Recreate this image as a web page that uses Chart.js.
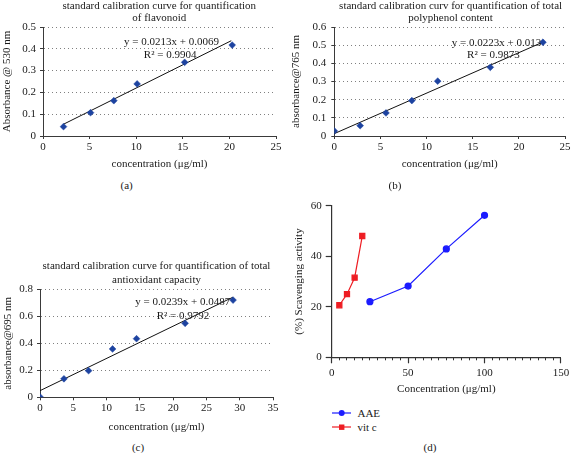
<!DOCTYPE html>
<html>
<head>
<meta charset="utf-8">
<script src="https://cdn.jsdelivr.net/npm/chart.js@4/dist/chart.umd.min.js"></script>
<style>
  body { margin: 0; background: #fff; width: 572px; height: 453px; position: relative; overflow: hidden;
         font-family: "Liberation Serif", "Times New Roman", serif; color: #1a1a1a; }
  canvas { position: absolute; }
  .txt { position: absolute; font-size: 11px; white-space: nowrap; transform: translate(-50%, -50%); }
  #legendD { position: absolute; left: 331.7px; top: 405.7px; font-size: 11px; }
  .legrow { display: flex; align-items: center; height: 14px; }
  .legrow svg { margin-right: 6.5px; }
</style>
</head>
<body>
<canvas id="chartA" width="286" height="176" style="left:0;top:0"></canvas>
<canvas id="chartB" width="286" height="176" style="left:286px;top:0"></canvas>
<canvas id="chartC" width="286" height="220" style="left:0;top:220px"></canvas>
<canvas id="chartD" width="286" height="210" style="left:286px;top:190px"></canvas>

<div class="txt" style="left:159.3px;top:5px">standard calibration curve for quantification</div>
<div class="txt" style="left:159.3px;top:17.3px">of flavonoid</div>
<div class="txt" style="left:450.6px;top:5px">standard calibration curv for quantification of total</div>
<div class="txt" style="left:450.6px;top:17.3px">polyphenol content</div>
<div class="txt" style="left:156.5px;top:265px">standard calibration curve for quantification of total</div>
<div class="txt" style="left:156.5px;top:279.3px">antioxidant capacity</div>

<div class="txt" style="left:126.7px;top:185px">(a)</div>
<div class="txt" style="left:395px;top:185px">(b)</div>
<div class="txt" style="left:138px;top:446.7px">(c)</div>
<div class="txt" style="left:430px;top:447px">(d)</div>

<div id="legendD"></div>

<script>
// (a) flavonoid
const flavX = [2.2, 5.1, 7.6, 10.1, 15.2, 20.3];
const flavY = [0.043, 0.107, 0.162, 0.239, 0.338, 0.417];
const flavTrendX = [2.2, 20.2];
const flavTrendY = [0.054, 0.437];
const flavXTicks = [0, 5, 10, 15, 20, 25];
const flavYTicks = [0, 0.05, 0.1, 0.15, 0.2, 0.25, 0.3, 0.35, 0.4, 0.45, 0.5];

// (b) polyphenol
const polyX = [0, 2.8, 5.6, 8.4, 11.2, 16.9, 22.6];
const polyY = [0.028, 0.057, 0.127, 0.195, 0.302, 0.378, 0.516];
const polyTrendX = [0, 22.6];
const polyTrendY = [0.013, 0.517];
const polyXTicks = [0, 5, 10, 15, 20, 25];
const polyYTicks = [0, 0.1, 0.2, 0.3, 0.4, 0.5, 0.6];

// (c) total antioxidant capacity
const antiX = [0, 3.6, 7.3, 10.9, 14.5, 21.8, 29.0];
const antiY = [0.003, 0.137, 0.197, 0.358, 0.434, 0.548, 0.72];
const antiTrendX = [0, 29];
const antiTrendY = [0.049, 0.742];
const antiXTicks = [0, 5, 10, 15, 20, 25, 30, 35];
const antiYTicks = [0, 0.1, 0.2, 0.3, 0.4, 0.5, 0.6, 0.7, 0.8];

// (d) scavenging activity
const aaeX = [25, 50, 75, 100];
const aaeY = [22, 28.2, 42.9, 56.2];
const vitcX = [5, 10, 15, 20];
const vitcY = [20.6, 25, 31.5, 48];
const scavXTicks = [0, 50, 100, 150];
const scavYTicks = [0, 20, 40, 60];

const markerBlue = '#1d43a0';
const axisColor = '#3a3a3a';

Chart.defaults.font.family = '"Liberation Serif", "Times New Roman", serif';
Chart.defaults.font.size = 11;
Chart.defaults.color = '#1a1a1a';

const pts = (xs, ys) => xs.map((x, i) => ({ x: x, y: ys[i] }));
const useTicks = arr => scale => { scale.ticks = arr.map(v => ({ value: v })); };

// regression text, placed at data coordinates
const eqLabel = {
    id: 'eqLabel',
    afterDatasetsDraw(chart, args, opts) {
        if (!opts.lines) return;
        const ctx = chart.ctx;
        const sx = chart.scales.x, sy = chart.scales.y;
        ctx.save();
        ctx.font = '11px "Liberation Serif", serif';
        ctx.fillStyle = '#1a1a1a';
        ctx.textAlign = 'center';
        ctx.textBaseline = 'middle';
        opts.lines.forEach((t, i) => {
            ctx.fillText(t, sx.getPixelForValue(opts.at[i][0]), sy.getPixelForValue(opts.at[i][1]));
        });
        ctx.restore();
    }
};
Chart.register(eqLabel);

function calibChart(id, d) {
    const g = d.geom;
    return new Chart(document.getElementById(id), {
        type: 'scatter',
        data: {
            datasets: [
                {
                    data: pts(d.x, d.y),
                    pointStyle: 'rectRot',
                    pointRadius: 3.4,
                    pointBackgroundColor: markerBlue,
                    pointBorderColor: markerBlue,
                    pointBorderWidth: 0.5
                },
                {
                    data: pts(d.trendX, d.trendY),
                    showLine: true,
                    pointRadius: 0,
                    borderColor: '#111',
                    borderWidth: 1
                }
            ]
        },
        options: {
            responsive: false,
            animation: false,
            layout: { padding: g.pad },
            plugins: {
                legend: { display: false },
                tooltip: { enabled: false },
                eqLabel: { lines: d.eq, at: d.eqAt }
            },
            scales: {
                x: {
                    type: 'linear',
                    min: d.xTicks[0],
                    max: d.xTicks[d.xTicks.length - 1],
                    afterBuildTicks: useTicks(d.xTicks),
                    afterFit: s => { s.height = g.xHeight; },
                    grid: { drawOnChartArea: false, tickLength: 3, tickColor: axisColor },
                    border: { color: axisColor },
                    ticks: { padding: g.xTickPad, callback: v => String(v) },
                    title: { display: true, text: 'concentration (μg/ml)', padding: { top: 0, bottom: g.xTitlePad } }
                },
                y: {
                    type: 'linear',
                    min: d.yTicks[0],
                    max: d.yTicks[d.yTicks.length - 1],
                    afterBuildTicks: useTicks(d.yTicks),
                    afterFit: s => { s.width = g.yWidth; },
                    grid: { color: '#808080', tickLength: 3, tickColor: axisColor },
                    border: { color: axisColor, dash: [1, 3] },
                    ticks: { padding: g.yTickPad, callback: v => String(v) },
                    title: { display: true, text: d.yTitle, padding: { top: g.yTitlePad, bottom: 0 } }
                }
            }
        }
    });
}

calibChart('chartA', {
    x: flavX, y: flavY, trendX: flavTrendX, trendY: flavTrendY,
    xTicks: flavXTicks, yTicks: flavYTicks,
    yTitle: 'Absorbance @ 530 nm',
    eq: ['y = 0.0213x + 0.0069', 'R² = 0.9904'],
    eqAt: [[13.78, 0.43], [13.64, 0.373]],
    geom: { pad: { left: 0, top: 27, right: 10, bottom: 0 }, yWidth: 43, xHeight: 40,
            xTitlePad: 5.4, yTitlePad: 0.4, yTickPad: 4, xTickPad: 1.4 }
});

calibChart('chartB', {
    x: polyX, y: polyY, trendX: polyTrendX, trendY: polyTrendY,
    xTicks: polyXTicks, yTicks: polyYTicks,
    yTitle: 'absorbance@765 nm',
    eq: ['y = 0.0223x + 0.013', 'R² = 0.9873'],
    eqAt: [[17.57, 0.51], [17.23, 0.448]],
    geom: { pad: { left: 0, top: 27, right: 5, bottom: 0 }, yWidth: 48.3, xHeight: 40,
            xTitlePad: 5.4, yTitlePad: 3.4, yTickPad: 5, xTickPad: 1.4 }
});

calibChart('chartC', {
    x: antiX, y: antiY, trendX: antiTrendX, trendY: antiTrendY,
    xTicks: antiXTicks, yTicks: antiYTicks,
    yTitle: 'absorbance@695 nm',
    eq: ['y = 0.0239x + 0.0487', 'R² = 0.9792'],
    eqAt: [[21.44, 0.706], [21.48, 0.604]],
    geom: { pad: { left: 0, top: 69.3, right: 13, bottom: 0 }, yWidth: 40, xHeight: 42.7,
            xTitlePad: 6.7, yTitlePad: 1.7, yTickPad: 4, xTickPad: 1.1 }
});

const chartD = new Chart(document.getElementById('chartD'), {
    type: 'line',
    data: {
        datasets: [
            {
                label: 'AAE',
                data: pts(aaeX, aaeY),
                borderColor: '#1c1cff',
                backgroundColor: '#1c1cff',
                pointStyle: 'circle',
                pointRadius: 3,
                borderWidth: 1.2
            },
            {
                label: 'vit c',
                data: pts(vitcX, vitcY),
                borderColor: '#ee1d23',
                backgroundColor: '#ee1d23',
                pointStyle: 'rect',
                pointRadius: 3.6,
                borderWidth: 1.2
            }
        ]
    },
    options: {
        responsive: false,
        animation: false,
        layout: { padding: { left: 0, top: 15.7, right: 10, bottom: 0 } },
        plugins: { legend: { display: false }, tooltip: { enabled: false } },
        scales: {
            x: {
                type: 'linear',
                weight: 1,
                min: 0,
                max: 150,
                afterBuildTicks: useTicks(scavXTicks),
                afterFit: s => { s.height = 42.7; },
                grid: { drawOnChartArea: false, tickLength: 6, tickColor: '#333', tickWidth: 1.2 },
                border: { color: '#333', width: 1.2 },
                ticks: { padding: 2.8 },
                title: { display: true, text: 'Concentration (μg/ml)', padding: { top: 0, bottom: 4.1 } }
            },
            // minor tick marks every 5 units
            xMinor: {
                type: 'linear',
                position: 'bottom',
                weight: 0,
                min: 0,
                max: 150,
                afterFit: s => { s.height = 0; },
                grid: { drawOnChartArea: false, tickLength: 3, tickColor: '#333', tickWidth: 1 },
                border: { display: false },
                ticks: { display: false, stepSize: 5 }
            },
            y: {
                type: 'linear',
                min: 0,
                max: 60,
                afterBuildTicks: useTicks(scavYTicks),
                afterFit: s => { s.width = 45.7; },
                grid: { drawOnChartArea: false, tickLength: 6, tickColor: '#333', tickWidth: 1.2 },
                border: { color: '#333', width: 1.2 },
                ticks: { padding: 4 },
                title: { display: true, text: '(%) Scavenging activity', padding: { top: 6.7, bottom: 0 } }
            }
        }
    }
});

// legend for (d): line with marker, then label
function drawLegend(chart) {
    const box = document.getElementById('legendD');
    chart.data.datasets.forEach(ds => {
        const row = document.createElement('div');
        row.className = 'legrow';
        const mark = ds.pointStyle === 'rect'
            ? `<rect x="7" y="2.5" width="5.4" height="5.4" fill="${ds.borderColor}"/>`
            : `<circle cx="9.7" cy="5" r="3" fill="${ds.borderColor}"/>`;
        row.innerHTML = `<svg width="19.3" height="10"><line x1="0" y1="5" x2="19.3" y2="5" stroke="${ds.borderColor}" stroke-width="1.2"/>${mark}</svg><span>${ds.label}</span>`;
        box.appendChild(row);
    });
}
drawLegend(chartD);
</script>
</body>
</html>
